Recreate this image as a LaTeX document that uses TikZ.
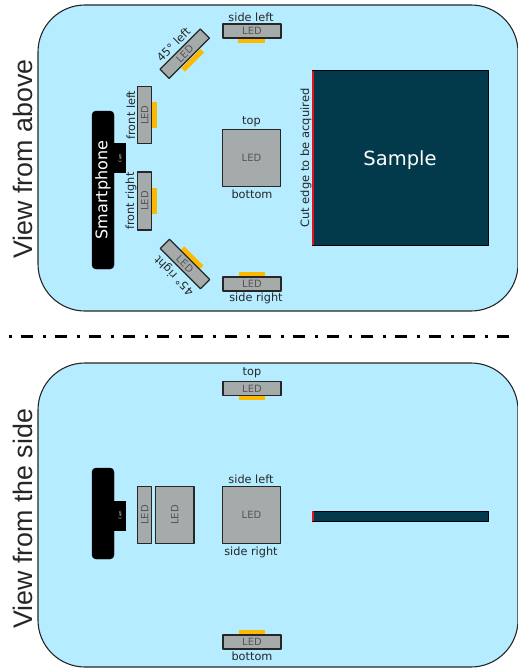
\documentclass[tikz,border=0pt]{standalone}
\usepackage{fontspec}
\setmainfont{DejaVu Sans}
\newfontfamily\viewfont{Liberation Sans}
\definecolor{panelblue}{HTML}{B5ECFF}
\definecolor{ledgray}{HTML}{A5ABAA}
\definecolor{ledtext}{HTML}{555555}
\definecolor{ledglow}{HTML}{FDB900}
\definecolor{samplecol}{HTML}{023A4B}
\definecolor{edgered}{HTML}{E8101A}
\tikzset{
  every picture/.style={line join=round},
  panel/.style={draw=black!85,fill=panelblue,line width=1.1pt,rounded corners=47pt},
  led/.style={draw=black!85,fill=ledgray,line width=1.2pt,inner sep=0pt,text=ledtext,font=\fontsize{10}{11}\selectfont},
  glow/.style={fill=ledglow,inner sep=0pt},
  lab/.style={inner sep=0pt,font=\fontsize{11.3}{12}\selectfont,text=black!85},
  view/.style={inner sep=0pt,rotate=90,font=\viewfont\fontsize{26.8}{28}\selectfont,text=black!85},
  phone/.style={fill=black,rounded corners=4pt},
}
\begin{document}
\begin{tikzpicture}[x=1pt,y=-1pt]
\useasboundingbox (0,0) rectangle (517,669);
% view from above
\draw[panel](38,5) rectangle (518,311);
\node[view](above) at (23,159){View from above};
\draw[phone](92,111) rectangle (114,269);
\fill(112,143) rectangle (126,173);
\node[inner sep=0pt,rotate=90,text=white,font=\fontsize{16}{17}\selectfont](smart) at (103,190){Smartphone};
\node[inner sep=0pt,rotate=90,text=white,font=\fontsize{3.5}{4}\selectfont](cama) at (120,158){Cam};
\node[glow,minimum width=27pt,minimum height=5pt](gsl) at (251.5,40.5){};
\node[led,minimum width=58pt,minimum height=14pt](sl) at (252,31){LED};
\node[lab](slt) at (251,17){side left};
\node[glow,rotate=45,minimum width=27pt,minimum height=5pt](g45l) at (192.7,60.3){};
\node[led,rotate=45,minimum width=57pt,minimum height=13pt](l45) at (184.7,53.7){LED};
\node[lab,rotate=45](l45t) at (173.5,44.5){45° left};
\node[glow,minimum width=5pt,minimum height=26pt](gfl) at (154.5,114.7){};
\node[led,rotate=90,minimum width=57pt,minimum height=14pt](fl) at (144.7,115.2){LED};
\node[lab,rotate=90](flt) at (131,115){front left};
\node[glow,minimum width=5pt,minimum height=26pt](gfr) at (154.5,201){};
\node[led,rotate=90,minimum width=58pt,minimum height=14pt](fr) at (144.7,201){LED};
\node[lab,rotate=90](frt) at (131,201){front right};
\node[led,minimum width=57.6pt,minimum height=57.4pt](tq) at (251.5,158){LED};
\node[lab](tt) at (251.5,122){top};
\node[lab](bt) at (252,194){bottom};
\node[glow,rotate=-45,minimum width=27pt,minimum height=5pt](g45r) at (192,257.7){};
\node[led,rotate=-45,minimum width=57pt,minimum height=13pt](r45) at (185,264){LED};
\node[lab,rotate=135](r45t) at (174.5,275.5){45° right};
\node[glow,minimum width=26pt,minimum height=5pt](gsr) at (252,274.5){};
\node[led,minimum width=58pt,minimum height=14pt](sr) at (252,284){LED};
\node[lab](srt) at (256,298){side right};
\node[draw=black,fill=samplecol,line width=1pt,minimum width=176pt,minimum height=174pt,inner sep=0pt,text=white,text depth=0pt,font=\fontsize{19.5}{20}\selectfont](sample) at (400,158){Sample};
\fill[edgered](311.5,71) rectangle (314,245);
\node[lab,rotate=90,font=\fontsize{11.5}{12}\selectfont](cut) at (306,158){Cut edge to be acquired};
% separator
\draw[line width=3pt,dash pattern=on 3pt off 9pt on 12pt off 10pt](8.5,336)--(511,336);
% view from the side
\draw[panel](38,363) rectangle (518,667);
\node[view](side) at (23,519){View from the side};
\draw[phone](92,468) rectangle (114,559);
\fill(112,501) rectangle (126,531);
\node[inner sep=0pt,rotate=90,text=white,font=\fontsize{3.5}{4}\selectfont](camb) at (120,515){Cam};
\node[glow,minimum width=26pt,minimum height=5pt](gtop) at (252,397.5){};
\node[led,minimum width=58pt,minimum height=14pt](ltop) at (252,388.5){LED};
\node[lab](ltopt) at (252,373){top};
\node[led,rotate=90,minimum width=57pt,minimum height=14pt](lf) at (144.7,515){LED};
\node[led,rotate=90,minimum width=57pt,minimum height=38.6pt](lfw) at (174.7,515){LED};
\node[led,minimum width=57.6pt,minimum height=57pt](sq) at (251.5,515){LED};
\node[lab](sqa) at (251,479){side left};
\node[lab](sqb) at (251,552){side right};
\node[draw=black,fill=samplecol,line width=1pt,minimum width=176pt,minimum height=10pt,inner sep=0pt](bar) at (400,516){};
\fill[edgered](311.5,511) rectangle (314,521);
\node[glow,minimum width=26pt,minimum height=5pt](gbot) at (252,632.5){};
\node[led,minimum width=58pt,minimum height=14pt](lbot) at (252,642){LED};
\node[lab](lbott) at (252,656){bottom};
\end{tikzpicture}
\end{document}
